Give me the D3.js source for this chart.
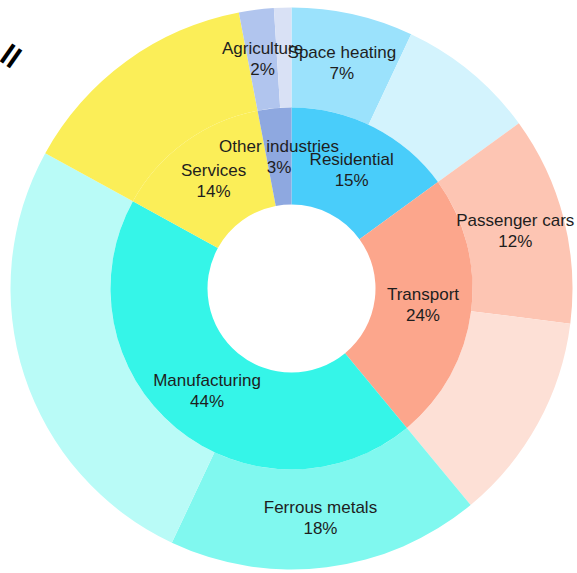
<!DOCTYPE html>
<html>
<head>
<meta charset="utf-8">
<script src="https://cdn.jsdelivr.net/npm/d3@7"></script>
<style>
  html, body { margin: 0; padding: 0; background: #fff; }
  svg { display: block; }
  text { font-family: "Liberation Sans", Arial, sans-serif; }
</style>
</head>
<body>
<svg id="chart" width="577" height="573"></svg>
<script>
// Energy use by sector (inner ring) and sub-sector (outer ring), shares in %
const sectors = ["Residential", "Transport", "Manufacturing", "Services", "Other industries"];
const sectorShares = [15, 24, 44, 14, 3];
const sectorColors = ["#49cdfa", "#fca68c", "#35f5e8", "#fbee58", "#8ea8e0"];

const subSectors = ["Space heating", "", "Passenger cars", "", "Ferrous metals", "", "", "Agriculture", ""];
const subParents = ["Residential", "Residential", "Transport", "Transport", "Manufacturing", "Manufacturing", "Services", "Other industries", "Other industries"];
const subShares = [7, 8, 12, 12, 18, 26, 14, 2, 1];
const subColors = ["#9be2fc", "#d3f3fd", "#fdc5b3", "#fde0d6", "#80f8ef", "#b9fbf7", "#fbee58", "#b1c5ee", "#d9e1f5"];

const width = 577, height = 573;
const cx = 291.5, cy = 288.5;
const rHole = 84, rMid = 181, rOuter = 281;

const svg = d3.select("#chart");
const g = svg.append("g").attr("transform", `translate(${cx},${cy})`);

const pie = d3.pie().sort(null).value(d => d.value).startAngle(0).endAngle(2 * Math.PI);

const innerData = pie(sectors.map((name, i) => ({ name, value: sectorShares[i], color: sectorColors[i] })));
const outerData = pie(subShares.map((v, i) => ({ name: subSectors[i], parent: subParents[i], value: v, color: subColors[i] })));

const innerArc = d3.arc().innerRadius(rHole).outerRadius(rMid);
const outerArc = d3.arc().innerRadius(rMid).outerRadius(rOuter);

g.append("g").selectAll("path").data(outerData).join("path")
  .attr("d", outerArc)
  .attr("fill", d => d.data.color);

g.append("g").selectAll("path").data(innerData).join("path")
  .attr("d", innerArc)
  .attr("fill", d => d.data.color);

function addLabels(data, arc) {
  const lbl = g.append("g").selectAll("text").data(data.filter(d => d.data.name)).join("text")
    .attr("transform", d => `translate(${arc.centroid(d)})`)
    .attr("text-anchor", "middle")
    .attr("font-size", 17)
    .attr("fill", "#1e1e1e");
  lbl.append("tspan").attr("x", 0).attr("y", -10.5).attr("dominant-baseline", "central").text(d => d.data.name);
  lbl.append("tspan").attr("x", 0).attr("y", 10.5).attr("dominant-baseline", "central").text(d => d.data.value + "%");
}
addLabels(outerData, outerArc);
addLabels(innerData, innerArc);

// small dark glyph near the top-left corner
svg.append("text")
  .attr("transform", "translate(-2,60) rotate(35)")
  .attr("font-size", 30)
  .attr("font-weight", "bold")
  .attr("fill", "#000")
  .text("ll");
</script>
</body>
</html>
